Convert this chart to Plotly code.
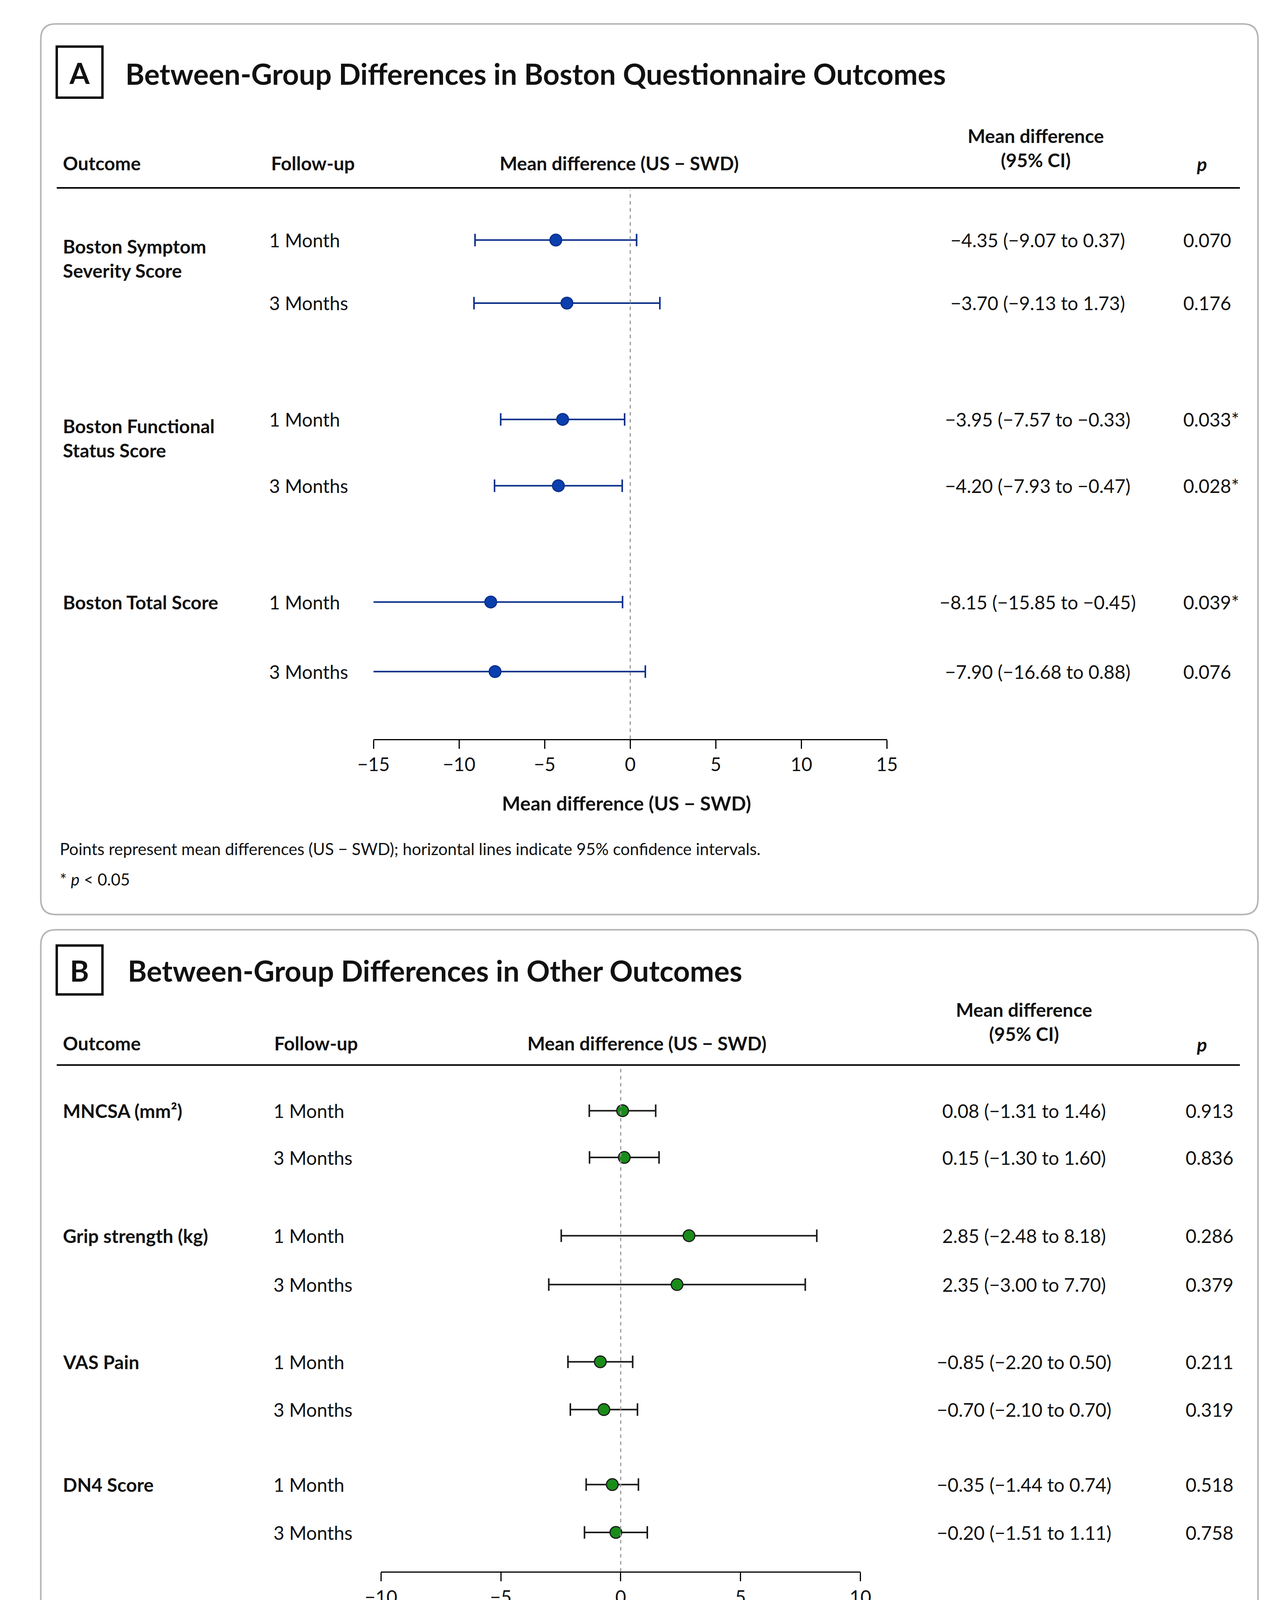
import plotly.graph_objects as go

# ---------------- data ----------------
a_outcomes = ["Boston Symptom<br>Severity Score", "Boston Functional<br>Status Score", "Boston Total Score"]
a_followup = ["1 Month", "3 Months", "1 Month", "3 Months", "1 Month", "3 Months"]
a_mean = [-4.35, -3.70, -3.95, -4.20, -8.15, -7.90]
a_lo = [-9.07, -9.13, -7.57, -7.93, -15.85, -16.68]
a_hi = [0.37, 1.73, -0.33, -0.47, -0.45, 0.88]
a_p = ["0.070", "0.176", "0.033*", "0.028*", "0.039*", "0.076"]
a_ticks = [-15, -10, -5, 0, 5, 10, 15]

b_outcomes = ["MNCSA (mm²)", "Grip strength (kg)", "VAS Pain", "DN4 Score"]
b_followup = ["1 Month", "3 Months"] * 4
b_mean = [0.08, 0.15, 2.85, 2.35, -0.85, -0.70, -0.35, -0.20]
b_lo = [-1.31, -1.30, -2.48, -3.00, -2.20, -2.10, -1.44, -1.51]
b_hi = [1.46, 1.60, 8.18, 7.70, 0.50, 0.70, 0.74, 1.11]
b_p = ["0.913", "0.836", "0.286", "0.379", "0.211", "0.319", "0.518", "0.758"]
b_ticks = [-10, -5, 0, 5, 10]

# ---------------- layout helpers (reference px at 1184x1568) ----------------
W, H = 1184.0, 1568.0
FW, FH = 3292, 4363
K = FW / W
def px(x): return x / W
def py(y): return 1 - y / H

a_rows = [218, 276, 383, 444, 551, 615]
b_rows = [1019, 1062, 1134, 1179, 1250, 1294, 1363, 1407]
A_TOP, A_BOT = 172, 677
B_TOP, B_BOT = 979, 1443

def fmt(v):
    s = f"{abs(v):.2f}"
    return ("−" + s) if v < 0 else s

FONT = "Lato"
fig = go.Figure()

def ci_trace(mean, lo, hi, rows, xa, ya, color, lcolor):
    fig.add_trace(go.Scatter(
        x=mean, y=rows, mode="markers", xaxis=xa, yaxis=ya,
        marker=dict(size=30, color=color, line=dict(color=lcolor, width=3)),
        error_x=dict(type="data", symmetric=False,
                     array=[h - m for h, m in zip(hi, mean)],
                     arrayminus=[m - l for m, l in zip(mean, lo)],
                     color=lcolor, thickness=4, width=16),
        showlegend=False, hoverinfo="skip"))

ci_trace(a_mean, a_lo, a_hi, a_rows, "x", "y", "#0b3fae", "#0a2f8a")
ci_trace(b_mean, b_lo, b_hi, b_rows, "x2", "y2", "#1a8c1a", "#1a1a1a")

def tt(ticks):
    return [("−" + str(-t)) if t < 0 else str(t) for t in ticks]

axcommon = dict(showgrid=False, zeroline=False, showline=True, linecolor="black", linewidth=3,
                ticks="outside", ticklen=22, tickwidth=3, tickcolor="black",
                tickfont=dict(family=FONT, size=48, color="#111"))
fig.update_layout(
    width=FW, height=FH, margin=dict(l=0, r=0, t=0, b=0),
    paper_bgcolor="white", plot_bgcolor="rgba(0,0,0,0)",
    xaxis=dict(domain=[px(333), px(816)], range=[-15, 15], tickvals=a_ticks,
               ticktext=tt(a_ticks), anchor="y", **axcommon),
    yaxis=dict(domain=[py(A_BOT), py(A_TOP)], range=[A_BOT, A_TOP], visible=False),
    xaxis2=dict(domain=[px(340), px(791)], range=[-10, 10], tickvals=b_ticks,
                ticktext=tt(b_ticks), anchor="y2", **axcommon),
    yaxis2=dict(domain=[py(B_BOT), py(B_TOP)], range=[B_BOT, B_TOP], visible=False),
)

shapes = []
def rrect(x0, y0, x1, y1, r=14):
    X0, X1 = x0 * K, x1 * K
    Y0, Y1 = (H - y0) * K, (H - y1) * K
    R = r * K
    def P(x, y): return f"{x/FW:.5f},{y/FH:.5f}"
    path = (f"M {P(X0+R, Y0)} L {P(X1-R, Y0)} Q {P(X1, Y0)} {P(X1, Y0-R)} "
            f"L {P(X1, Y1+R)} Q {P(X1, Y1)} {P(X1-R, Y1)} L {P(X0+R, Y1)} "
            f"Q {P(X0, Y1)} {P(X0, Y1+R)} L {P(X0, Y0-R)} Q {P(X0, Y0)} {P(X0+R, Y0)} Z")
    shapes.append(dict(type="path", path=path, xref="paper", yref="paper",
                       line=dict(color="#b5b5b5", width=4)))
rrect(20, 18, 1165, 838)
rrect(20, 852, 1165, 1552)
for (x0, y0, x1, y1) in [(35, 40, 78, 87), (35, 867, 78, 912)]:
    shapes.append(dict(type="rect", xref="paper", yref="paper", x0=px(x0), x1=px(x1),
                       y0=py(y1), y1=py(y0), line=dict(color="black", width=6)))
for y in [170, 977]:
    shapes.append(dict(type="line", xref="paper", yref="paper", x0=px(35), x1=px(1148),
                       y0=py(y), y1=py(y), line=dict(color="black", width=4)))
shapes.append(dict(type="line", xref="x", yref="y domain", x0=0, x1=0, y0=0, y1=1,
                   line=dict(color="#999", width=3, dash="dash")))
shapes.append(dict(type="line", xref="x2", yref="y2 domain", x0=0, x1=0, y0=0, y1=1,
                   line=dict(color="#999", width=3, dash="dash")))
fig.update_layout(shapes=shapes)

ann = []
def T(x, y, text, size=48, anchor="left", bold=False, color="#111"):
    if bold:
        text = f"<b>{text}</b>"
    ann.append(dict(x=px(x), y=py(y), xref="paper", yref="paper", text=text, showarrow=False,
                    xanchor=anchor, yanchor="middle", align=anchor,
                    font=dict(family=FONT, size=size, color=color)))

# Panel A
T(56.5, 64, "A", 74, "center", True)
T(99, 65, "Between-Group Differences in Boston Questionnaire Outcomes", 74, "left", True)
T(40, 147, "Outcome", 48, bold=True)
T(236, 147, "Follow-up", 48, bold=True)
T(564, 147, "Mean difference (US − SWD)", 48, "center", True)
T(956, 133, "Mean difference<br>(95% CI)", 48, "center", True)
T(1112, 148, "<i>p</i>", 48, "center", True)
T(40, 235, a_outcomes[0], 48, bold=True)
T(40, 400, a_outcomes[1], 48, bold=True)
T(40, 551, a_outcomes[2], 48, bold=True)
for i, y in enumerate(a_rows):
    T(234, y, a_followup[i], 48)
    T(958, y, f"{fmt(a_mean[i])} ({fmt(a_lo[i])} to {fmt(a_hi[i])})", 48, "center")
    T(1094, y, a_p[i], 48)
T(571, 736, "Mean difference (US − SWD)", 50, "center", True)
T(37, 778, "Points represent mean differences (US − SWD); horizontal lines indicate 95% confidence intervals.", 42)
T(37, 806, "* <i>p</i> < 0.05", 42)

# Panel B
T(56.5, 890, "B", 74, "center", True)
T(101, 890, "Between-Group Differences in Other Outcomes", 74, "left", True)
T(40, 957, "Outcome", 48, bold=True)
T(239, 957, "Follow-up", 48, bold=True)
T(590, 957, "Mean difference (US − SWD)", 48, "center", True)
T(945, 937, "Mean difference<br>(95% CI)", 48, "center", True)
T(1112, 958, "<i>p</i>", 48, "center", True)
for i, o in enumerate(b_outcomes):
    T(40, b_rows[2*i], o, 48, bold=True)
for i, y in enumerate(b_rows):
    T(238, y, b_followup[i], 48)
    T(945, y, f"{fmt(b_mean[i])} ({fmt(b_lo[i])} to {fmt(b_hi[i])})", 48, "center")
    T(1096, y, b_p[i], 48)
T(564, 1488, "Mean difference (US − SWD)", 50, "center", True)
T(37, 1514, "Points represent mean differences (US − SWD); horizontal lines indicate 95% confidence intervals.", 42)

fig.update_layout(annotations=ann)
fig.write_html("out.html")
